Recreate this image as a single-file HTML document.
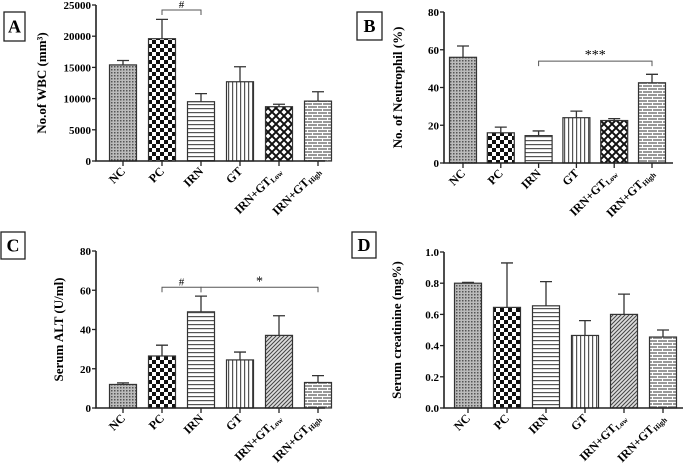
<!DOCTYPE html>
<html><head><meta charset="utf-8">
<style>
html,body{margin:0;padding:0;background:#fff;}
svg{display:block;font-family:"Liberation Serif",serif;font-weight:bold;}
</style></head>
<body>
<svg id="fig" width="685" height="466" viewBox="0 0 685 466" xmlns="http://www.w3.org/2000/svg">
<defs>
<pattern id="pNC" width="3" height="3" patternUnits="userSpaceOnUse"><rect width="3" height="3" fill="#bbb"/><rect width="1.5" height="1.5" fill="#555"/></pattern>
<pattern id="pPC" width="8" height="8" patternUnits="userSpaceOnUse"><rect width="8" height="8" fill="#fff"/><rect width="4" height="4" fill="#111"/><rect x="4" y="4" width="4" height="4" fill="#111"/></pattern>
<pattern id="pIRN" width="4" height="4" patternUnits="userSpaceOnUse"><rect width="4" height="4" fill="#fff"/><rect y="0" width="4" height="1.2" fill="#555"/></pattern>
<pattern id="pGT" width="4" height="4" patternUnits="userSpaceOnUse"><rect width="4" height="4" fill="#fff"/><rect x="0" width="1.2" height="4" fill="#555"/></pattern>
<pattern id="pX" width="8" height="8" patternUnits="userSpaceOnUse"><rect width="8" height="8" fill="#fff"/><path d="M0 0L8 8M8 0L0 8" stroke="#111" stroke-width="2"/></pattern>
<pattern id="pD" width="4" height="4" patternUnits="userSpaceOnUse"><rect width="4" height="4" fill="#ddd"/><path d="M-1 1L1 -1M0 4L4 0M3 5L5 3" stroke="#444" stroke-width="1"/></pattern>
<pattern id="pB" width="10" height="6" patternUnits="userSpaceOnUse"><rect width="10" height="6" fill="#999"/><rect y="0" width="10" height="1" fill="#fff"/><rect y="3" width="10" height="1" fill="#fff"/><rect x="2" y="0" width="1" height="3" fill="#fff"/><rect x="7" y="3" width="1" height="3" fill="#fff"/></pattern>
</defs>
</svg>
<script>
const categories = ["NC","PC","IRN","GT","IRN+GT|Low","IRN+GT|High"];
const wbcMeans = [15400,19600,9500,12700,8700,9600];
const wbcErr = [700,3100,1300,2400,400,1500];
const neuMeans = [56,16,14.5,24,22.5,42.5];
const neuErr = [6,3,2.5,3.5,1,4.5];
const altMeans = [12,26.5,49,24.5,37,13];
const altErr = [0.8,5.5,8,4,10,3.5];
const creMeans = [0.80,0.645,0.655,0.465,0.60,0.455];
const creErr = [0.005,0.285,0.155,0.095,0.13,0.045];
const wbcTicks = [0,5000,10000,15000,20000,25000];
const neuTicks = [0,20,40,60,80];
const altTicks = [0,20,40,60,80];
const creTicks = ["0.0","0.2","0.4","0.6","0.8","1.0"];

const NS="http://www.w3.org/2000/svg";
const svg=document.getElementById('fig');
function mk(tag,attrs,parent){const e=document.createElementNS(NS,tag);for(const k in attrs)e.setAttribute(k,attrs[k]);(parent||svg).appendChild(e);return e;}

const panels=[
 {id:'a',letter:'A',box:[4,12,21,29],ax:96,y0:161,y1:5,xr:325,c0:123,step:39,max:25000,means:wbcMeans,err:wbcErr,ticks:wbcTicks,title:'No.of WBC (mm³)',tx:46,fills:['pNC','pPC','pIRN','pGT','pX','pB'],sig:[{a:1,b:2,v:24200,t:'#'}]},
 {id:'b',letter:'B',box:[357,12,25,28],ax:444,y0:163,y1:12,xr:673,c0:463,step:37.8,max:80,means:neuMeans,err:neuErr,ticks:neuTicks,title:'No. of Neutrophil (%)',tx:402,fills:['pNC','pPC','pIRN','pGT','pX','pB'],sig:[{a:2,b:5,v:54,t:'***'}]},
 {id:'c',letter:'C',box:[1,232,24,27],ax:96,y0:408,y1:251,xr:325,c0:123,step:39,max:80,means:altMeans,err:altErr,ticks:altTicks,title:'Serum ALT (U/ml)',tx:63,fills:['pNC','pPC','pIRN','pGT','pD','pB'],sig:[{a:1,b:2,v:61.5,t:'#'},{a:2,b:5,v:61.5,t:'*'}]},
 {id:'d',letter:'D',box:[352,232,24,26],ax:444,y0:408,y1:252,xr:683,c0:468,step:39,max:1.0,means:creMeans,err:creErr,ticks:creTicks,title:'Serum creatinine (mg%)',tx:401,fills:['pNC','pPC','pIRN','pGT','pD','pB'],sig:[]}
];

panels.forEach(p=>{
 const g=mk('g',{});
 
 
 const yS=v=>p.y0-(v/p.max)*(p.y0-p.y1);
 const xS=i=>p.c0+i*p.step;
 const bw=27;
 const bx=mk('rect',{x:p.box[0],y:p.box[1],width:p.box[2],height:p.box[3],fill:'#fff',stroke:'#222','stroke-width':1.3},g);
 
 
 const lt=mk('text',{x:p.box[0]+p.box[2]/2,y:p.box[1]+p.box[3]/2+6,'text-anchor':'middle','font-size':18},g);
 lt.textContent=p.letter;
 
 
 p.means.forEach((m,i)=>{
  const top=yS(m),cx=xS(i);
  const eb=mk('path',{d:`M${cx} ${top}V${yS(m+p.err[i])}M${cx-6} ${yS(m+p.err[i])}H${cx+6}`,stroke:'#333','stroke-width':1.3,fill:'none'},g);
  
  
  const r=mk('rect',{x:cx-bw/2,y:top,width:bw,height:p.y0-top,fill:'url(#'+p.fills[i]+')',stroke:'#333','stroke-width':1.2},g);
  
  
  const tk=mk('line',{x1:cx,x2:cx,y1:p.y0,y2:p.y0+5,stroke:'#222','stroke-width':1.3},g);
  
  
  const parts=categories[i].split('|');
  const t=mk('text',{transform:`translate(${cx+3},${p.y0+11}) rotate(-45)`,'text-anchor':'end','font-size':12},g);
  t.textContent=parts[0];
  if(parts[1]){const s=mk('tspan',{'font-size':7.5,dy:2},t);s.textContent=parts[1];}
  
  
 });
 const axes=mk('path',{d:`M${p.ax} ${p.y1}V${p.y0}H${p.xr}`,stroke:'#222','stroke-width':1.6,fill:'none'},g);
 
 
 p.ticks.forEach((tv,j)=>{
  const y=yS(parseFloat(tv));
  const l=mk('line',{x1:p.ax-4,x2:p.ax,y1:y,y2:y,stroke:'#222','stroke-width':1.3},g);
  
  
  const t=mk('text',{x:p.ax-5,y:y+4,'text-anchor':'end','font-size':11},g);
  t.textContent=tv;
  
  
 });
 const ty=(p.y0+p.y1)/2;
 const tt=mk('text',{transform:`translate(${p.tx},${ty}) rotate(-90)`,'text-anchor':'middle','font-size':13},g);
 tt.textContent=p.title;
 
 
 p.sig.forEach(s=>{
  const y=yS(s.v);
  const br=mk('path',{d:`M${xS(s.a)} ${y+5}V${y}H${xS(s.b)}V${y+5}`,stroke:'#555','stroke-width':1,fill:'none'},g);
  
  
  const st=mk('text',{x:(xS(s.a)+xS(s.b))/2,y:y-2,'text-anchor':'middle','font-size':s.t==='#'?11:14,'font-weight':'normal'},g);
  st.textContent=s.t;
  
  
 });
});
</script>
</body></html>
